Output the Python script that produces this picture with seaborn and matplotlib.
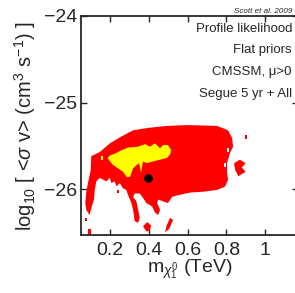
import matplotlib
matplotlib.use("Agg")
import matplotlib.pyplot as plt
import seaborn as sns
import pandas as pd

# 95% CL region (red), outline: mass (TeV), log10 <sigma v>
red_x = [0.103, 0.148, 0.200, 0.252, 0.319, 0.406, 0.494, 0.597, 0.752, 0.809,
         0.830, 0.835, 0.819, 0.804, 0.804, 0.809, 0.794, 0.752, 0.680, 0.613,
         0.551, 0.520, 0.499, 0.484, 0.448, 0.443, 0.458, 0.448, 0.432, 0.417,
         0.387, 0.370, 0.353, 0.327, 0.319, 0.336, 0.345, 0.353, 0.345, 0.327,
         0.319, 0.310, 0.293, 0.284, 0.267, 0.250, 0.233, 0.224, 0.207, 0.198,
         0.181, 0.164, 0.147, 0.129, 0.121, 0.117, 0.103, 0.095, 0.077, 0.072,
         0.077, 0.086, 0.100]
red_y = [-25.62, -25.57, -25.47, -25.40, -25.32, -25.29, -25.27, -25.26, -25.27, -25.32,
         -25.41, -25.51, -25.58, -25.70, -25.81, -25.89, -25.97, -26.01, -26.03, -26.04,
         -26.07, -26.09, -26.16, -26.15, -26.12, -26.16, -26.24, -26.30, -26.27, -26.20,
         -26.16, -26.10, -26.05, -26.05, -26.09, -26.14, -26.24, -26.33, -26.39, -26.37,
         -26.24, -26.16, -26.07, -26.01, -25.99, -25.93, -25.97, -25.91, -25.93, -25.87,
         -25.91, -25.89, -25.87, -25.91, -26.01, -26.12, -26.22, -26.30, -26.24, -26.16,
         -26.04, -25.93, -25.78]

# small detached red islands
blob1_x = [0.370, 0.392, 0.412, 0.405, 0.388]
blob1_y = [-26.43, -26.38, -26.42, -26.48, -26.49]
blob2_x = [0.510, 0.525, 0.505, 0.484, 0.492]
blob2_y = [-26.33, -26.36, -26.46, -26.50, -26.42]
blob3_x = [0.840, 0.870, 0.900, 0.880, 0.900, 0.862, 0.846]
blob3_y = [-25.70, -25.66, -25.70, -25.75, -25.80, -25.85, -25.78]
blob4_x = [0.072, 0.082, 0.082, 0.072]
blob4_y = [-26.33, -26.33, -26.37, -26.37]
blob5_x = [0.088, 0.100, 0.100, 0.088]
blob5_y = [-26.46, -26.46, -26.53, -26.53]
blob6_x = [0.236, 0.246, 0.246, 0.236]
blob6_y = [-26.01, -26.01, -26.05, -26.05]
blob7_x = [0.897, 0.907, 0.907, 0.897]
blob7_y = [-25.38, -25.38, -25.42, -25.42]

# white holes inside the red region
hole1_x = [0.806, 0.814, 0.814, 0.806]
hole1_y = [-25.53, -25.53, -25.57, -25.57]
hole2_x = [0.790, 0.798, 0.798, 0.790]
hole2_y = [-25.70, -25.70, -25.74, -25.74]

# 68% CL region (yellow)
yel_x = [0.188, 0.200, 0.226, 0.260, 0.293, 0.345, 0.381, 0.406, 0.432, 0.458,
         0.474, 0.499, 0.515, 0.510, 0.493, 0.458, 0.422, 0.389, 0.370, 0.364,
         0.360, 0.350, 0.338, 0.319, 0.303, 0.286, 0.267, 0.241, 0.215, 0.200]
yel_y = [-25.64, -25.61, -25.59, -25.55, -25.52, -25.51, -25.48, -25.51, -25.47, -25.53,
         -25.49, -25.49, -25.55, -25.60, -25.64, -25.66, -25.68, -25.70, -25.68, -25.76,
         -25.81, -25.70, -25.72, -25.76, -25.86, -25.86, -25.80, -25.76, -25.72, -25.68]
ydot_x = [0.152, 0.162, 0.162, 0.152]
ydot_y = [-25.62, -25.62, -25.66, -25.66]

# best fit point
best = pd.DataFrame({"m": [0.398], "sv": [-25.87]})

xticks = [0.2, 0.4, 0.6, 0.8, 1.0]
xticklabels = ["0.2", "0.4", "0.6", "0.8", "1"]
yticks = [-26, -25, -24]
yticklabels = ["\u221226", "\u221225", "\u221224"]

notes = ["Profile likelihood", "Flat priors", "CMSSM, \u03bc>0", "Segue 5 yr + All"]

sns.set_style("ticks")
plt.rcParams["font.family"] = ["Liberation Sans", "DejaVu Sans"]
plt.rcParams["mathtext.fontset"] = "custom"
plt.rcParams["mathtext.rm"] = "Liberation Sans"
plt.rcParams["mathtext.it"] = "Liberation Sans:italic"

fig = plt.figure(figsize=(2.95, 2.93), dpi=100)
ax = fig.add_axes([81 / 295, 58 / 293, 217 / 295, 219 / 293])

reds = [(red_x, red_y), (blob1_x, blob1_y), (blob2_x, blob2_y), (blob3_x, blob3_y),
        (blob4_x, blob4_y), (blob5_x, blob5_y), (blob6_x, blob6_y), (blob7_x, blob7_y)]
for bx, by in reds:
    ax.fill(bx, by, color="#ff0000", lw=0)
for bx, by in [(hole1_x, hole1_y), (hole2_x, hole2_y)]:
    ax.fill(bx, by, color="white", lw=0)
ax.fill(yel_x, yel_y, color="#ffff00", lw=0)
ax.fill(ydot_x, ydot_y, color="#ffff00", lw=0)

sns.scatterplot(data=best, x="m", y="sv", color="black", s=32,
                edgecolor="black", ax=ax, legend=False)

ax.set_xlim(0.05, 1.17)
ax.set_ylim(-26.53, -24)
ax.set_xticks(xticks)
ax.set_xticklabels(xticklabels)
ax.set_yticks(yticks)
ax.set_yticklabels(yticklabels)
ax.tick_params(direction="in", length=4, width=1, top=True, right=True,
               labelsize=14)
ax.tick_params(axis="x", pad=5)
ax.tick_params(axis="y", pad=3)
for s in ax.spines.values():
    s.set_linewidth(1.3)
    s.set_visible(True)

ax.set_xlabel(r"m$_{\chi_1^0}$ (TeV)", fontsize=14)
ax.set_ylabel(r"log$_{10}$ [ <$\sigma$ v> (cm$^3$ s$^{-1}$) ]", fontsize=14.5)
ax.xaxis.set_label_coords(0.5, -0.105)
ax.yaxis.set_label_coords(-0.198, 0.5)

fig.text(292 / 295, 1 - 11.5 / 293, "Scott et al. 2009", fontsize=5.8,
         style="italic", ha="right", va="center")
for i, t in enumerate(notes):
    fig.text(292 / 295, 1 - (29 + 21.5 * i) / 293, t, fontsize=9.5,
             ha="right", va="center")

fig.savefig("out.png", dpi=100)
